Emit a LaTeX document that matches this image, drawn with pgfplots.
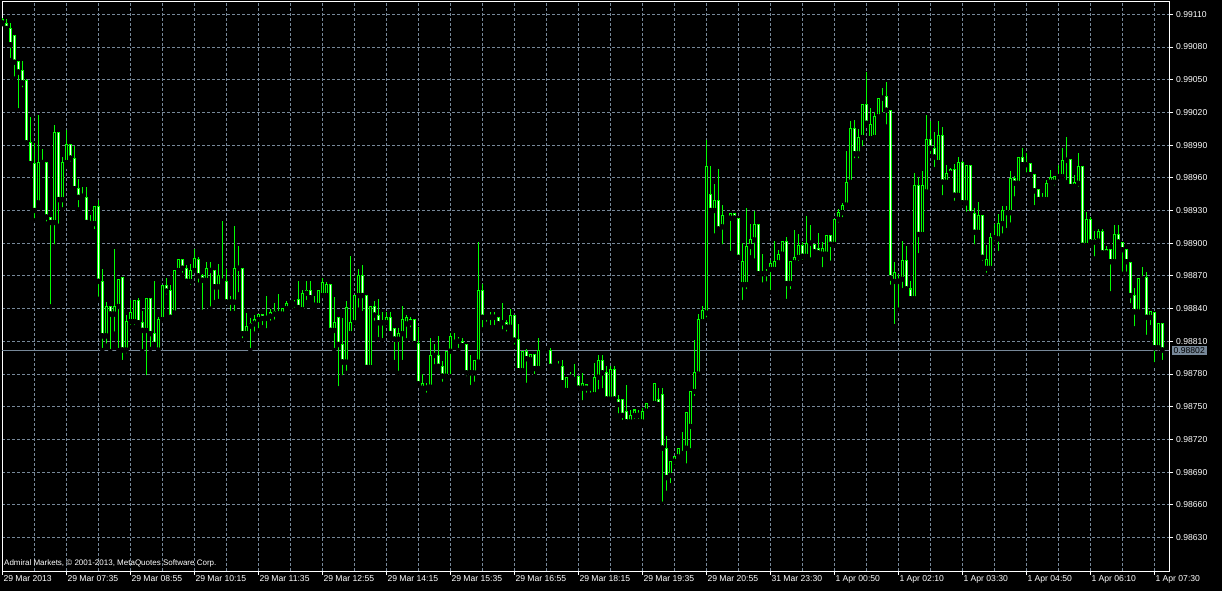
\documentclass[border=0pt]{standalone}
\usepackage{pgfplots}
\usepackage{pgfplotstable}
\pgfplotsset{compat=1.18}
\usepackage{fontspec}
\setmainfont{Liberation Sans}
\definecolor{lime}{RGB}{0,255,0}
\definecolor{slate}{RGB}{119,136,153}
% prices in units of 0.00001 (98810 = 0.98810), M5 bars
\pgfplotstableread{
i O H L C
0 99105 99107 99101 99102
1 99102 99106 99093 99097
2 99097 99102 99068 99082
3 99091 99091 99051 99066
4 99067 99067 99022 99057
5 99058 99067 99041 99047
6 99049 99051 98992 98992
7 98992 99016 98973 98973
8 98973 98992 98921 98930
9 98937 99018 98937 98974
10 98974 98986 98970 98974
11 98974 98974 98918 98924
12 98924 98924 98842 98919
13 98919 99008 98897 99002
14 99002 99002 98916 98940
15 98940 98979 98931 98974
16 98974 99004 98970 98991
17 98991 98991 98973 98978
18 98978 98989 98950 98950
19 98950 98959 98931 98942
20 98943 98952 98940 98943
21 98942 98952 98915 98919
22 98920 98926 98915 98918
23 98918 98934 98911 98934
24 98934 98940 98849 98865
25 98865 98876 98802 98815
26 98815 98846 98806 98842
27 98842 98842 98801 98835
28 98835 98895 98817 98842
29 98842 98867 98802 98867
30 98869 98869 98791 98802
31 98802 98834 98797 98828
32 98828 98848 98823 98836
33 98828 98848 98823 98847
34 98847 98850 98823 98827
35 98827 98838 98801 98820
36 98820 98850 98777 98849
37 98849 98849 98803 98817
38 98817 98865 98807 98807
39 98802 98832 98801 98830
40 98830 98861 98830 98861
41 98861 98868 98851 98856
42 98857 98862 98832 98832
43 98836 98875 98832 98875
44 98875 98885 98875 98885
45 98885 98885 98871 98877
46 98877 98880 98865 98865
47 98865 98881 98860 98875
48 98875 98895 98875 98886
49 98885 98887 98862 98870
50 98870 98872 98837 98866
51 98866 98883 98863 98877
52 98877 98883 98840 98875
53 98875 98875 98846 98860
54 98860 98881 98847 98870
55 98867 98920 98865 98865
56 98865 98876 98846 98846
57 98846 98852 98836 98846
58 98846 98916 98836 98877
59 98877 98897 98853 98877
60 98877 98877 98811 98817
61 98817 98836 98813 98824
62 98824 98831 98802 98826
63 98826 98834 98817 98830
64 98830 98835 98820 98835
65 98835 98835 98823 98831
66 98831 98852 98820 98833
67 98833 98840 98827 98836
68 98837 98845 98828 98835
69 98835 98853 98835 98835
70 98835 98840 98835 98840
71 98840 98847 98839 98845
72 98845 98848 98841 98845
73 98844 98848 98839 98846
74 98848 98865 98840 98841
75 98839 98857 98839 98854
76 98854 98865 98846 98857
77 98857 98865 98846 98850
78 98845 98852 98840 98843
79 98843 98857 98843 98857
80 98852 98868 98852 98864
81 98852 98864 98848 98862
82 98862 98862 98820 98820
83 98820 98851 98802 98827
84 98832 98832 98767 98807
85 98807 98831 98777 98791
86 98791 98847 98781 98841
87 98817 98888 98817 98827
88 98827 98852 98827 98852
89 98852 98876 98839 98870
90 98870 98880 98836 98852
91 98852 98852 98786 98786
92 98786 98842 98786 98842
93 98842 98847 98827 98834
94 98834 98849 98812 98827
95 98827 98837 98811 98827
96 98827 98837 98827 98832
97 98832 98837 98817 98817
98 98822 98822 98791 98812
99 98812 98822 98781 98817
100 98817 98842 98791 98830
101 98826 98834 98811 98832
102 98830 98832 98821 98827
103 98830 98830 98804 98808
104 98808 98823 98771 98771
105 98767 98780 98767 98771
106 98767 98772 98761 98767
107 98768 98813 98766 98797
108 98797 98808 98787 98797
109 98797 98815 98787 98787
110 98787 98792 98771 98778
111 98778 98801 98778 98801
112 98801 98818 98778 98814
113 98809 98818 98806 98809
114 98810 98814 98802 98810
115 98810 98813 98806 98806
116 98807 98808 98776 98781
117 98781 98797 98768 98781
118 98781 98792 98771 98792
119 98791 98901 98791 98857
120 98857 98863 98821 98832
121 98832 98832 98826 98832
122 98832 98837 98823 98832
123 98832 98837 98823 98832
124 98832 98832 98826 98826
125 98827 98845 98819 98827
126 98827 98830 98817 98823
127 98823 98840 98819 98834
128 98834 98834 98805 98811
129 98812 98826 98783 98783
130 98783 98801 98783 98801
131 98801 98803 98770 98794
132 98793 98798 98793 98798
133 98798 98798 98778 98785
134 98785 98813 98782 98802
135 98802 98803 98800 98802
136 98802 98802 98801 98802
137 98802 98804 98787 98787
138 98788 98788 98786 98786
139 98787 98792 98786 98787
140 98787 98793 98772 98772
141 98765 98777 98765 98777
142 98777 98782 98775 98777
143 98777 98789 98775 98775
144 98778 98778 98767 98767
145 98767 98781 98754 98771
146 98770 98770 98761 98767
147 98767 98767 98761 98767
148 98761 98790 98761 98777
149 98777 98797 98764 98792
150 98792 98797 98765 98781
151 98781 98787 98757 98757
152 98757 98787 98757 98784
153 98784 98787 98757 98757
154 98757 98761 98742 98752
155 98757 98757 98736 98742
156 98746 98770 98732 98736
157 98736 98747 98736 98742
158 98742 98747 98737 98747
159 98742 98747 98737 98742
160 98736 98749 98733 98746
161 98746 98753 98743 98753
162 98753 98755 98753 98753
163 98753 98771 98753 98771
164 98757 98767 98752 98752
165 98761 98767 98661 98712
166 98712 98723 98671 98685
167 98687 98700 98678 98700
168 98700 98704 98695 98704
169 98704 98712 98704 98712
170 98709 98727 98707 98707
171 98712 98745 98696 98745
172 98732 98764 98710 98764
173 98764 98811 98758 98781
174 98780 98835 98777 98830
175 98828 98842 98824 98838
176 98836 98995 98830 98970
177 98945 98971 98926 98930
178 98930 98954 98907 98939
179 98939 98968 98913 98913
180 98915 98935 98897 98925
181 98924 98925 98923 98923
182 98923 98927 98891 98927
183 98927 98927 98922 98923
184 98923 98923 98887 98887
185 98862 98900 98846 98883
186 98862 98932 98856 98897
187 98897 98918 98887 98903
188 98903 98930 98884 98917
189 98917 98917 98872 98872
190 98872 98890 98862 98872
191 98872 98876 98863 98872
192 98876 98885 98855 98881
193 98876 98902 98876 98883
194 98882 98894 98882 98890
195 98890 98902 98890 98902
196 98902 98906 98847 98863
197 98863 98884 98856 98883
198 98882 98912 98882 98887
199 98887 98908 98882 98898
200 98898 98901 98883 98888
201 98888 98925 98888 98900
202 98900 98917 98885 98900
203 98899 98899 98892 98892
204 98895 98909 98890 98891
205 98890 98901 98876 98895
206 98890 98907 98890 98907
207 98907 98907 98882 98899
208 98899 98922 98899 98922
209 98922 98931 98917 98928
210 98928 98937 98922 98935
211 98935 98985 98933 98956
212 98956 99012 98956 99005
213 99005 99013 98976 98982
214 98982 99005 98976 98997
215 98997 99027 98987 99027
216 99027 99057 99010 99010
217 98996 99024 98996 99009
218 98997 99020 98997 99016
219 99016 99033 99013 99033
220 99033 99042 99018 99035
221 99035 99048 99007 99022
222 99022 99022 98860 98868
223 98865 98883 98824 98873
224 98867 98872 98839 98865
225 98867 98902 98857 98884
226 98884 98897 98855 98858
227 98858 98865 98846 98849
228 98849 98964 98849 98953
229 98953 98961 98889 98908
230 98908 98966 98908 98953
231 98947 99018 98947 98995
232 98995 99012 98980 98987
233 98987 99002 98968 98979
234 98974 99012 98974 98999
235 98999 99007 98942 98956
236 98956 98972 98953 98964
237 98964 98969 98964 98968
238 98968 98973 98937 98944
239 98944 98979 98944 98974
240 98974 98975 98937 98937
241 98937 98972 98927 98971
242 98971 98972 98927 98927
243 98927 98932 98897 98910
244 98910 98938 98910 98925
245 98925 98925 98882 98887
246 98877 98898 98871 98885
247 98877 98909 98877 98905
248 98905 98918 98900 98906
249 98904 98927 98891 98918
250 98918 98934 98907 98930
251 98930 98934 98912 98928
252 98928 98966 98917 98959
253 98959 98962 98941 98955
254 98955 98979 98952 98979
255 98979 98987 98972 98972
256 98974 98983 98963 98972
257 98973 98973 98963 98963
258 98963 98963 98933 98948
259 98949 98950 98937 98940
260 98940 98946 98940 98940
261 98940 98958 98940 98955
262 98956 98967 98952 98960
263 98956 98961 98951 98961
264 98961 98972 98961 98961
265 98961 98987 98958 98976
266 98976 98997 98956 98976
267 98977 98977 98950 98952
268 98952 98963 98950 98956
269 98955 98983 98950 98970
270 98970 98970 98898 98898
271 98898 98929 98897 98922
272 98922 98924 98898 98901
273 98903 98911 98886 98901
274 98902 98913 98898 98911
275 98911 98913 98889 98891
276 98891 98897 98889 98894
277 98894 98894 98854 98883
278 98883 98917 98883 98908
279 98908 98917 98897 98901
280 98901 98901 98872 98894
281 98894 98894 98872 98883
282 98882 98882 98843 98852
283 98852 98859 98822 98837
284 98837 98868 98837 98868
285 98867 98878 98865 98869
286 98869 98874 98814 98832
287 98832 98837 98823 98837
288 98836 98836 98789 98804
289 98804 98826 98804 98826
290 98826 98826 98791 98802
}\candles
\begin{document}
\begin{tikzpicture}
\useasboundingbox (0,0) rectangle (1222pt,591pt);
\fill[black] (0,0) rectangle (1222pt,591pt);
\begin{axis}[
  at={(2pt,20pt)}, anchor=south west,
  scale only axis, width=1167pt, height=569pt,
  xmin=-0.075, xmax=291.675, ymin=98599.3, ymax=99121.3,
  axis line style={white, line width=1pt},
  xtick={0,16,...,288}, minor xtick={8,24,...,280},
  xticklabels={29 Mar 2013,29 Mar 07:35,29 Mar 08:55,29 Mar 10:15,29 Mar 11:35,29 Mar 12:55,29 Mar 14:15,29 Mar 15:35,29 Mar 16:55,29 Mar 18:15,29 Mar 19:35,29 Mar 20:55,31 Mar 23:30,1 Apr 00:50,1 Apr 02:10,1 Apr 03:30,1 Apr 04:50,1 Apr 06:10,1 Apr 07:30},
  ytick={98630,98660,...,99110},
  yticklabels={0.98630,0.98660,0.98690,0.98720,0.98750,0.98780,0.98810,0.98840,0.98870,0.98900,0.98930,0.98960,0.98990,0.99020,0.99050,0.99080,0.99110},
  xtick pos=bottom, ytick pos=right, yticklabel pos=right,
  tick align=outside, major tick length=4pt, minor tick length=0pt,
  tick style={white, line width=1pt},
  grid=both,
  major grid style={slate, line width=1pt, dash pattern=on 3pt off 2pt},
  minor grid style={slate, line width=1pt, dash pattern=on 3pt off 2pt},
  xticklabel style={anchor=north west, inner sep=0pt, text=white, font=\fontsize{8.6}{10}\selectfont, xshift=1pt},
  yticklabel style={anchor=west, inner sep=0pt, text=white, font=\fontsize{8.6}{10}\selectfont, xshift=3pt},
]
\addplot[slate, line width=1pt, forget plot] coordinates {(-1,98802) (292,98802)};
% wicks
\addplot[only marks, mark=none, forget plot,
  error bars/.cd, y dir=plus, y explicit, error mark=none,
  error bar style={draw=lime, line width=1pt}]
  table[x=i, y=L, y error expr=\thisrow{H}-\thisrow{L}] {\candles};
% body outlines
\addplot[only marks, mark=none, forget plot,
  error bars/.cd, y dir=plus, y explicit, error mark=none,
  error bar style={draw=lime, line width=3pt}]
  table[x=i, y expr={min(\thisrow{O},\thisrow{C})-0.46}, y error expr={abs(\thisrow{O}-\thisrow{C})+0.92}] {\candles};
% bearish bodies: white fill
\addplot[only marks, mark=none, forget plot,
  error bars/.cd, y dir=plus, y explicit, error mark=none,
  error bar style={draw=white, line width=1pt}]
  table[x=i, y expr={min(\thisrow{O},\thisrow{C})+0.46}, y error expr={max(\thisrow{O}-\thisrow{C}-0.92,0)}] {\candles};
% bullish bodies: black fill
\addplot[only marks, mark=none, forget plot,
  error bars/.cd, y dir=plus, y explicit, error mark=none,
  error bar style={draw=black, line width=1pt}]
  table[x=i, y expr={min(\thisrow{O},\thisrow{C})+0.46}, y error expr={max(\thisrow{C}-\thisrow{O}-0.92,0)}] {\candles};
\coordinate (bid) at (axis cs:291.675,98802);
\end{axis}
\node[fill=slate, anchor=west, inner xsep=2pt, inner ysep=1.5pt, text=black, font=\fontsize{8.6}{10}\selectfont] at ([xshift=2.5pt]bid) {0.98802};
\node[anchor=west, inner sep=0pt, text=white, font=\fontsize{8}{9}\selectfont] at (4pt,28pt) {Admiral Markets, © 2001-2013, MetaQuotes Software Corp.};
\end{tikzpicture}
\end{document}
